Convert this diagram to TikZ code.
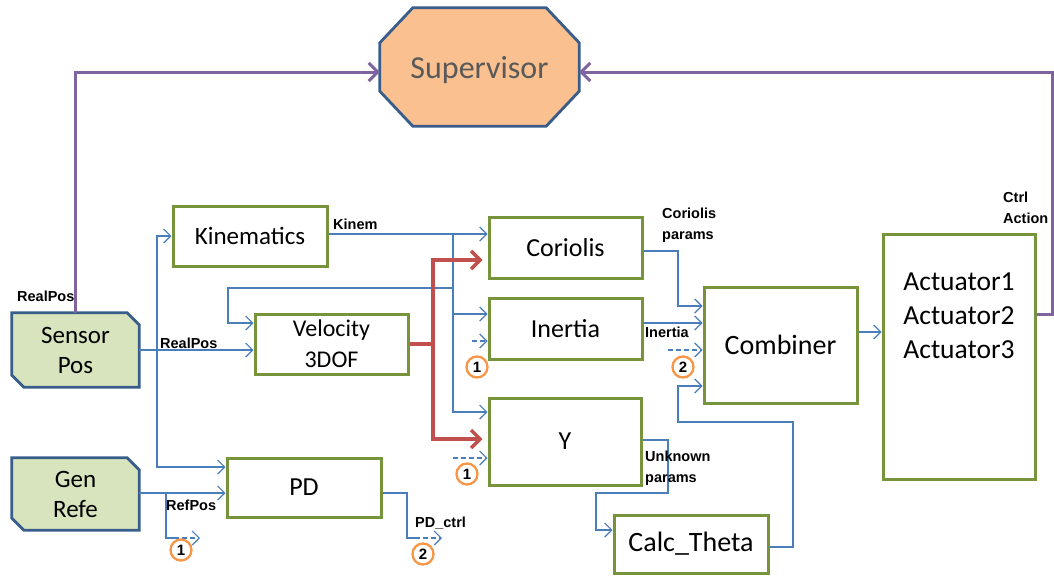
\documentclass[tikz,border=0pt]{standalone}
\usepackage{fontspec}
\setmainfont{Carlito}
\newfontfamily\lblfont{Liberation Sans}
\usetikzlibrary{arrows.meta,calc,backgrounds}

\definecolor{boxgreen}{HTML}{77933C}
\definecolor{linkblue}{HTML}{4A7EBB}
\definecolor{navyedge}{HTML}{385D8A}
\definecolor{sensorfill}{HTML}{D7E4BD}
\definecolor{supfill}{HTML}{FAC090}
\definecolor{suptext}{HTML}{595959}
\definecolor{purpleline}{HTML}{8064A2}
\definecolor{redline}{HTML}{C0504D}
\definecolor{orangering}{HTML}{F79646}

\begin{document}
\begin{tikzpicture}[x=1pt,y=-1pt,
  blk/.style={draw=boxgreen,line width=3pt,fill=white,inner sep=0pt,align=center},
  src/.style={inner sep=0pt,align=center},
  flow/.style={draw=linkblue,line width=1.2pt,-{Straight Barb[length=7pt,width=14pt]}},
  plain/.style={draw=linkblue,line width=1.2pt},
  dashflow/.style={flow,dash pattern=on 5pt off 3pt},
  redflow/.style={draw=redline,line width=3.5pt,-{Straight Barb[length=9pt,width=18pt]},shorten >=5pt},
  redwire/.style={draw=redline,line width=3.5pt},
  supflow/.style={draw=purpleline,line width=3pt,-{Straight Barb[length=9pt,width=18pt]}},
  lbl/.style={font=\lblfont\bfseries\fontsize{14.5}{21}\selectfont,inner sep=0pt,anchor=west,align=left},
  ring/.style={circle,draw=orangering,line width=2.3pt,fill=white,minimum size=21pt,inner sep=0pt,
    font=\lblfont\bfseries\fontsize{15}{15}\selectfont}]
\useasboundingbox (0,0) rectangle (1054,576);

% ---------- blocks ----------
\node[src,minimum width=199pt,minimum height=118pt] (sup) at (479.5,67) {};
\node[src,text=suptext,font=\fontsize{32}{36}\selectfont] (supTxt) at (479.5,70) {Supervisor};
\node[src,minimum width=127pt,minimum height=74pt,font=\fontsize{25}{30}\selectfont]
  (sen) at (75.5,350) {Sensor\\Pos};
\node[src,minimum width=127pt,minimum height=72pt,font=\fontsize{25}{30}\selectfont]
  (gen) at (75.5,494) {Gen\\Refe};

\node[blk,minimum width=154pt,minimum height=60pt,font=\fontsize{25}{30}\selectfont]
  (kin) at (250,236) {Kinematics};
\node[blk,minimum width=153pt,minimum height=60pt,font=\fontsize{24}{31}\selectfont]
  (vel) at (331.5,344) {Velocity\\3DOF};
\node[blk,minimum width=153pt,minimum height=61pt,font=\fontsize{26}{30}\selectfont]
  (cor) at (565.5,247.5) {Coriolis};
\node[blk,minimum width=153pt,minimum height=61pt,font=\fontsize{26}{30}\selectfont]
  (ine) at (565.5,328.5) {Inertia};
\node[blk,minimum width=152pt,minimum height=87pt,font=\fontsize{26}{30}\selectfont]
  (yb) at (565,441.5) {Y};
\node[blk,minimum width=154pt,minimum height=59pt,font=\fontsize{26}{30}\selectfont]
  (pd) at (304,487.5) {PD};
\node[blk,minimum width=153pt,minimum height=116pt,font=\fontsize{28}{32}\selectfont]
  (com) at (780.5,345) {Combiner};
\node[blk,minimum width=154pt,minimum height=58pt,font=\fontsize{28}{32}\selectfont]
  (cal) at (691,544) {Calc\_Theta};
\node[blk,minimum width=152pt,minimum height=245pt] (act) at (959,356.5) {};
\node[src,font=\fontsize{27.5}{34}\selectfont] (actTxt) at (959,316)
  {Actuator1\\Actuator2\\Actuator3};

% chamfered outlines behind the supervisor and the two sources
\begin{scope}[on background layer]
  \draw[draw=navyedge,line width=2.8pt,fill=supfill]
    ($(sup.north west)+(33,0)$) -- ($(sup.north east)+(-33,0)$) --
    ($(sup.north east)+(0,35)$) -- ($(sup.south east)+(0,-35)$) --
    ($(sup.south east)+(-33,0)$) -- ($(sup.south west)+(33,0)$) --
    ($(sup.south west)+(0,-35)$) -- ($(sup.north west)+(0,35)$) -- cycle;
  \foreach \b in {sen,gen}{
    \draw[draw=navyedge,line width=2.8pt,fill=sensorfill]
      (\b.north west) -- ($(\b.north east)+(-12,0)$) -- ($(\b.north east)+(0,12)$) --
      (\b.south east) -- ($(\b.south west)+(12,0)$) -- ($(\b.south west)+(0,-12)$) -- cycle;
  }
\end{scope}

% ---------- junctions ----------
\coordinate (jS) at (157,350);
\coordinate (jG) at (166,493);
\coordinate (jK) at (453,234);
\coordinate (jR) at (433,344);
\coordinate (kG) at (166,538);
\coordinate (dG) at (200,538);
\coordinate (kP) at (407,538);
\coordinate (dP) at (442,538);
\coordinate (dI) at (472,341);
\coordinate (dY) at (453,458);
\coordinate (dC) at (668,350);
\coordinate (rt) at (1052,314);

% ---------- sensor and reference wiring ----------
\draw[flow] (sen.east) -- (vel.west |- sen.east);
\draw[flow] (jS) |- (kin.west);
\draw[flow] (jS) |- (pd.west |- 0,467);
\draw[flow] (gen.east |- jG) -- (pd.west |- jG);
\draw[plain] (jG) -- (kG) -- ++(8,0);
\draw[dashflow] ($(kG)+(8,0)$) -- (dG);

% ---------- kinematics bus ----------
\draw[flow] (kin.east |- jK) -- (cor.west |- jK);
\draw[flow] (jK) |- (ine.west |- 0,314);
\draw[flow] (jK) |- (yb.west |- 0,412);
\draw[flow] (jK) |- (228,288) |- (vel.west |- 0,323);

% ---------- velocity outputs ----------
\draw[redwire] (vel.east) -- (jR);
\draw[redflow] (jR) |- (cor.west |- 0,260);
\draw[redflow] (jR) |- (yb.west |- 0,439);

% ---------- dashed links from the numbered points ----------
\draw[dashflow] (dI) -- (ine.west |- dI);
\draw[dashflow] (dY) -- (yb.west |- dY);
\draw[dashflow] (dC) -- (com.west |- dC);

% ---------- into the combiner ----------
\draw[flow] (cor.east |- 0,251) -| (678,306) -- (com.west |- 0,306);
\draw[flow] (ine.east |- 0,323) -- (com.west |- 0,323);
\draw[flow] (cal.east |- 0,547) -| (793,422) -| (678,386) -- (com.west |- 0,386);
\draw[flow] (yb.east |- 0,440) -| (668,493) -| (596,530) -- (cal.west |- 0,530);
\draw[flow] (com.east |- 0,332) -- (act.west |- 0,332);

% ---------- PD output ----------
\draw[plain] (pd.east |- 0,493) -| (kP) -- ++(8,0);
\draw[dashflow] ($(kP)+(8,0)$) -- (dP);

% ---------- supervisor feedback ----------
\draw[supflow] (sen.north) |- (sup.west |- 0,72);
\draw[supflow] (act.east |- rt) -- (rt) |- (sup.east |- 0,72);

% ---------- numbered points ----------
\node[ring] (r1a) at (181,550) {1};
\node[ring] (r1b) at (477,367) {1};
\node[ring] (r1c) at (467,474) {1};
\node[ring] (r2a) at (683,367) {2};
\node[ring] (r2b) at (423,554) {2};

% ---------- signal labels ----------
\node[lbl] (lRealTop) at (17,296) {RealPos};
\node[lbl] (lRealSide) at (160,343) {RealPos};
\node[lbl] (lKinem) at (333,224) {Kinem};
\node[lbl] (lCor) at (662,225) {Coriolis\\params};
\node[lbl] (lIne) at (645,332) {Inertia};
\node[lbl] (lUnk) at (645,468) {Unknown\\params};
\node[lbl] (lCtrl) at (1003,207.5) {Ctrl\\Action};
\node[lbl] (lRef) at (166,505) {RefPos};
\node[lbl] (lPD) at (415,523) {PD\_ctrl};
\end{tikzpicture}
\end{document}
